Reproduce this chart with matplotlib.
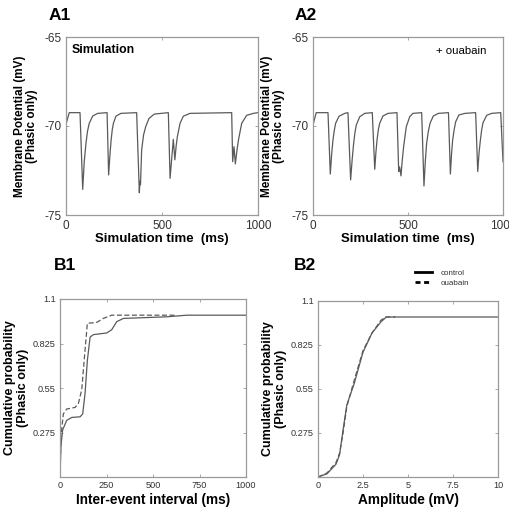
import matplotlib
matplotlib.use("Agg")
import matplotlib.pyplot as plt
from matplotlib.lines import Line2D

plt.rcParams['font.family'] = ['Liberation Sans', 'DejaVu Sans']
plt.rcParams['axes.unicode_minus'] = False

# ---- Data: phasic membrane potential traces (time ms, mV) ----
a1_t = [0, 17, 73, 87, 95, 104, 112, 121, 139, 165, 214, 222, 229, 235, 241, 247, 260, 286,
        368, 382, 385, 388, 394, 404, 415, 432, 460, 533, 542, 559, 567, 574, 580, 594, 611, 646,
        863, 868, 875, 882, 890, 898, 915, 941, 976, 1000]
a1_v = [-69.9, -69.25, -69.25, -73.56, -72.0, -70.97, -70.3, -69.85, -69.44, -69.29,
        -69.25, -72.75, -71.6, -70.8, -70.2, -69.85, -69.45, -69.29,
        -69.25, -73.75, -73.1, -73.3, -71.35, -70.5, -70.04, -69.58, -69.33,
        -69.25, -72.94, -70.75, -71.9, -71.1, -70.6, -69.85, -69.45, -69.29,
        -69.25, -72.0, -71.16, -72.13, -71.4, -70.8, -69.85, -69.4, -69.29, -69.25]

a2_t = [0, 17, 79, 91, 98, 105, 112, 119, 137, 167, 184, 198, 206, 214, 221, 228, 246, 272,
        312, 325, 331, 337, 344, 351, 368, 395, 442, 451, 456, 463, 470, 477, 491, 509, 526,
        572, 584, 591, 598, 607, 616, 633, 660, 713, 723, 729, 735, 743, 751, 768, 800,
        856, 867, 874, 881, 888, 895, 914, 940, 988, 1000]
a2_v = [-69.94, -69.25, -69.25, -72.7, -71.6, -70.8, -70.25, -69.85, -69.45, -69.29,
        -69.25, -73.03, -71.9, -70.97, -70.35, -69.94, -69.48, -69.29,
        -69.25, -72.43, -71.5, -70.79, -70.2, -69.85, -69.44, -69.29,
        -69.25, -72.56, -72.3, -72.8, -71.9, -71.16, -70.04, -69.48, -69.29,
        -69.25, -73.37, -72.0, -70.97, -70.3, -69.85, -69.44, -69.29,
        -69.25, -72.7, -71.6, -70.79, -70.2, -69.76, -69.38, -69.29,
        -69.25, -72.56, -71.5, -70.79, -70.2, -69.81, -69.4, -69.29, -69.25, -72.0]

# ---- Data: cumulative probability, inter-event interval (ms) ----
b1_ctrl_x = [0, 5, 14, 36, 63, 108, 122, 135, 147, 162, 180, 251, 278, 305, 341, 575, 682, 1000]
b1_ctrl_y = [0, 0.19, 0.29, 0.35, 0.368, 0.372, 0.39, 0.52, 0.72, 0.865, 0.88, 0.89, 0.91, 0.96, 0.98, 0.99, 1.0, 1.0]
b1_ouab_x = [0, 5, 18, 36, 81, 99, 117, 135, 147, 197, 233, 278, 620]
b1_ouab_y = [0, 0.25, 0.39, 0.42, 0.43, 0.455, 0.54, 0.79, 0.95, 0.955, 0.98, 1.0, 1.0]

# ---- Data: cumulative probability, amplitude (mV) ----
b2_ctrl_x = [0, 0.5, 1.0, 1.2, 1.4, 1.6, 2.0, 2.5, 3.0, 3.5, 3.8, 10]
b2_ctrl_y = [0, 0.02, 0.08, 0.14, 0.3, 0.45, 0.58, 0.78, 0.9, 0.97, 1.0, 1.0]
b2_ouab_x = [0, 0.5, 1.0, 1.2, 1.4, 1.6, 2.0, 2.5, 3.0, 3.5, 3.75, 4.3]
b2_ouab_y = [0, 0.025, 0.09, 0.15, 0.28, 0.44, 0.6, 0.79, 0.9, 0.98, 1.0, 1.0]

a_xticks = [0, 500, 1000]
a_yticks = [-75, -70, -65]
b_yticks = [0.275, 0.55, 0.825, 1.1]
b1_xticks = [0, 250, 500, 750, 1000]
b2_xticks = [0, 2.5, 5, 7.5, 10]

LINE = '#5a5a5a'
FRAME = '#9a9a9a'
TXT = '#333333'

fig = plt.figure(figsize=(5.09, 5.09), dpi=100)
W = H = 509.0

def add_ax(l, t, r, b):
    return fig.add_axes([l / W, 1 - b / H, (r - l) / W, (b - t) / H])

def style(ax, fs, pad):
    for s in ax.spines.values():
        s.set_color(FRAME)
        s.set_linewidth(0.9)
    ax.tick_params(direction='in', length=2.5, width=0.6, color=FRAME,
                   top=True, right=True, labelsize=fs, labelcolor=TXT, pad=pad)

axA1 = add_ax(66, 37, 258, 215)
axA2 = add_ax(313, 37, 503, 215)
axB1 = add_ax(60, 299, 246, 477)
axB2 = add_ax(318, 301, 498, 477)

for ax, t, v in [(axA1, a1_t, a1_v), (axA2, a2_t, a2_v)]:
    ax.plot(t, v, color=LINE, lw=0.9)
    ax.set_xlim(0, 1000)
    ax.set_ylim(-75, -65)
    ax.set_xticks(a_xticks)
    ax.set_yticks(a_yticks)
    style(ax, 8.5, 3.5)
    ax.set_xlabel('Simulation time  (ms)', fontsize=9.5, fontweight='bold', labelpad=1)
    ax.set_ylabel('Membrane Potential (mV)\n(Phasic only)', fontsize=8.5,
                  fontweight='bold', labelpad=4, linespacing=1.1)

axA1.text(0.03, 0.96, 'Simulation', transform=axA1.transAxes, fontsize=8.8,
          fontweight='bold', va='top', ha='left')
axA2.text(0.91, 0.95, '+ ouabain', transform=axA2.transAxes, fontsize=8.2,
          va='top', ha='right')

axB1.plot(b1_ctrl_x, b1_ctrl_y, color=LINE, lw=0.9, ls='-')
axB1.plot(b1_ouab_x, b1_ouab_y, color=LINE, lw=0.9, ls=(0, (4, 2)))
axB2.plot(b2_ctrl_x, b2_ctrl_y, color=LINE, lw=0.9, ls='-')
axB2.plot(b2_ouab_x, b2_ouab_y, color=LINE, lw=0.9, ls=(0, (4, 2)))

for ax, xt, xl in [(axB1, b1_xticks, 'Inter-event interval (ms)'),
                   (axB2, b2_xticks, 'Amplitude (mV)')]:
    ax.set_xlim(xt[0], xt[-1])
    ax.set_ylim(0, 1.1)
    ax.set_xticks(xt)
    ax.set_xticklabels([('%g' % x) for x in xt])
    ax.set_yticks(b_yticks)
    ax.set_yticklabels([('%g' % y) for y in b_yticks])
    style(ax, 6.6, 3)
    ax.set_xlabel(xl, fontsize=9.8, fontweight='bold', labelpad=2)
    ax.set_ylabel('Cumulative probability\n(Phasic only)', fontsize=9,
                  fontweight='bold', labelpad=3, linespacing=1.1)

handles = [Line2D([], [], color='black', lw=2, ls='-'),
           Line2D([], [], color='black', lw=2, ls=(0, (1.8, 1.3)))]
axB2.legend(handles, ['control', 'ouabain'], loc='lower left',
            bbox_to_anchor=(0.54, 1.08), frameon=False, fontsize=5.8,
            handlelength=2.1, handletextpad=1.0, labelspacing=0.25,
            borderpad=0, borderaxespad=0, labelcolor=TXT)

for txt, x, y in [('A1', 60, 16), ('A2', 306, 16), ('B1', 65, 266), ('B2', 305, 266)]:
    fig.text(x / W, 1 - y / H, txt, fontsize=12.5, fontweight='bold', ha='center', va='center')

fig.savefig('out.png', dpi=100)
